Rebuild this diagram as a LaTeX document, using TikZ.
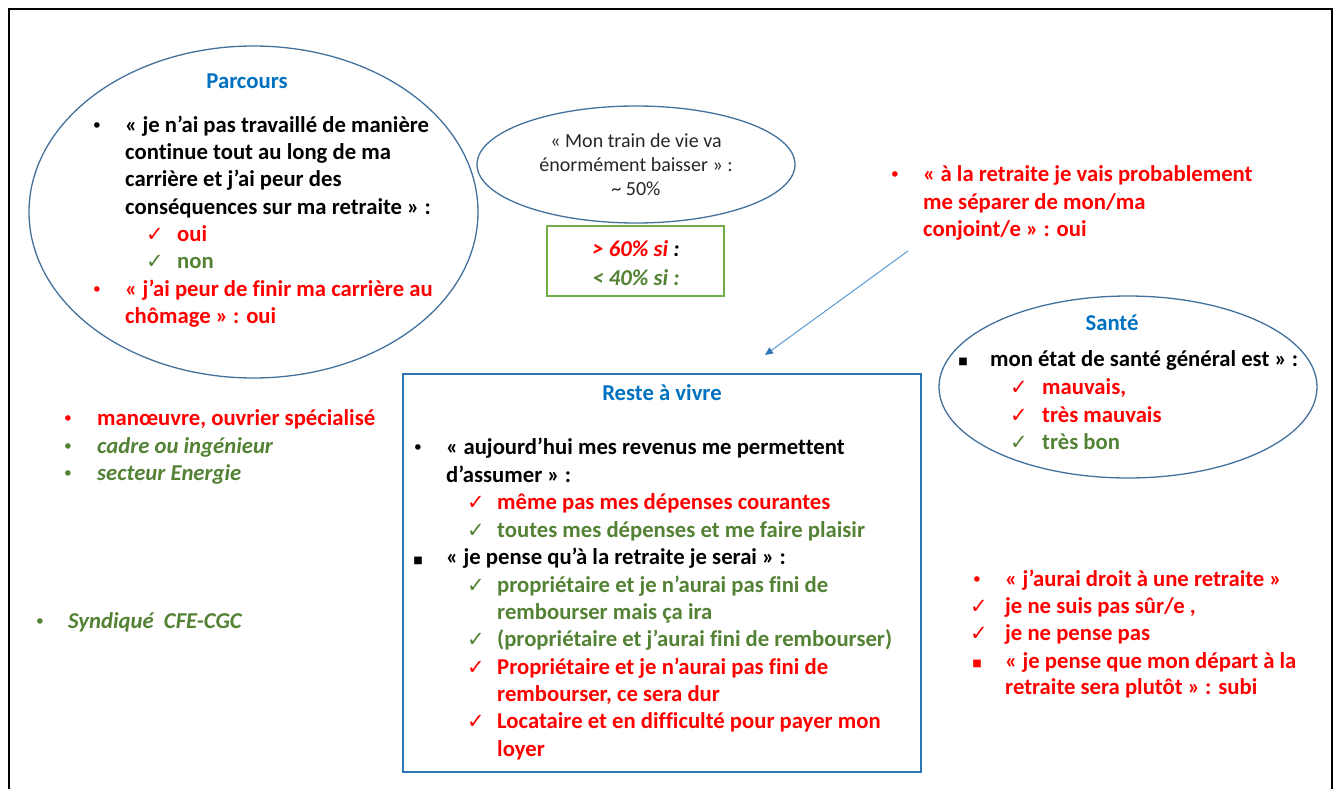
\documentclass[tikz,border=0pt]{standalone}
\usepackage{fontspec}
\setmainfont{Carlito}[Ligatures=NoCommon]
\newfontfamily\djv{DejaVu Sans}
\usetikzlibrary{shapes.geometric,arrows.meta}
\definecolor{myred}{HTML}{FF0000}
\definecolor{mygreen}{HTML}{548235}
\definecolor{ttlblue}{HTML}{0070C0}
\definecolor{ellblue}{HTML}{41719C}
\definecolor{boxblue}{HTML}{2E75B6}
\definecolor{arrblue}{HTML}{5B9BD5}
\definecolor{boxgreen}{HTML}{70AD47}
\definecolor{txtgray}{HTML}{262626}
\tikzset{
  ell/.style={draw=ellblue, line width=1.3pt, ellipse, inner sep=0pt},
  tx/.style={anchor=base west, inner sep=0pt, font=\fontsize{22.7}{27}\selectfont\bfseries},
  txi/.style={tx, font=\fontsize{22.7}{27}\selectfont\bfseries\itshape},
  ctr/.style={anchor=base, inner sep=0pt, font=\fontsize{22.7}{27}\selectfont\bfseries},
  ttl/.style={ctr, text=ttlblue},
  reg/.style={anchor=base, inner sep=0pt, text=txtgray, font=\fontsize{20}{24}\selectfont},
  bul/.style={anchor=base, inner sep=0pt, font=\djv\fontsize{19}{19}\selectfont},
  sqb/.style={anchor=base, inner sep=0pt, font=\djv\fontsize{10}{10}\selectfont},
  ck/.style={anchor=base, inner sep=0pt, font=\djv\fontsize{21}{21}\selectfont},
}
\begin{document}
\begin{tikzpicture}[x=1pt,y=-1pt]
\useasboundingbox (0,0) rectangle (1336,789);
% frame
\draw[line width=2.5pt] (9,795) -- (9,9) -- (1332,9) -- (1332,795);

% shapes
\node[ell, minimum width=449pt, minimum height=332pt] (parc) at (253.5,212) {};
\node[ell, minimum width=318pt, minimum height=117pt] (train) at (636,164.5) {};
\node[ell, minimum width=378pt, minimum height=182pt] (sante) at (1128,387) {};
\node[draw=boxgreen, line width=1.2pt, minimum width=177pt, minimum height=70pt, inner sep=0pt] (gbox) at (635.5,261) {};
\node[draw=boxblue, line width=1.3pt, minimum width=518pt, minimum height=398pt, inner sep=0pt] (reste) at (662,573) {};

% Parcours
\node[ttl] (parcT) at (247,89) {Parcours};
\node[bul] (pb1) at (97,132) {•};
\node[tx] (p1) at (125,132) {« je n’ai pas travaillé de manière};
\node[tx] (p2) at (125,159.5) {continue tout au long de ma};
\node[tx] (p3) at (125,186.5) {carrière et j’ai peur des};
\node[tx] (p4) at (125,214) {conséquences sur ma retraite » :};
\node[ck, text=myred] (pc1) at (155,241) {✓};
\node[tx, text=myred] (p5) at (177,241) {oui};
\node[ck, text=mygreen] (pc2) at (155,268.5) {✓};
\node[tx, text=mygreen] (p6) at (177,268.5) {non};
\node[bul, text=myred] (pb2) at (97,296) {•};
\node[tx, text=myred] (p7) at (125,296) {« j’ai peur de finir ma carrière au};
\node[tx, text=myred] (p8) at (125,323) {chômage » : oui};

% train de vie
\node[reg] (t1) at (636,147.5) {« Mon train de vie va};
\node[reg] (t2) at (636,171.5) {énormément baisser » :};
\node[reg] (t3) at (636,195) {\textasciitilde{} 50\%};

% green box
\node[ctr, font=\fontsize{22.7}{27}\selectfont\bfseries\itshape] (g1) at (636,256) {\textcolor{myred}{> 60\% si} :};
\node[ctr, text=mygreen, font=\fontsize{22.7}{27}\selectfont\bfseries\itshape] (g2) at (636,285) {< 40\% si :};

% conjoint
\node[bul, text=myred] (cb) at (895,181) {•};
\node[tx, text=myred] (c1) at (923,181) {« à la retraite je vais probablement};
\node[tx, text=myred] (c2) at (923,209) {me séparer de mon/ma};
\node[tx, text=myred] (c3) at (923,236) {conjoint/e » : oui};

% arrow
\coordinate (as) at (908,251);
\coordinate (ae) at (765,355);
\draw[arrblue, line width=1pt, -{Triangle[length=8pt,width=7pt,color=boxblue]}] (as) -- (ae);

% Santé
\node[ttl] (santeT) at (1112,330) {Santé};
\node[sqb] (sb) at (963,364) {■};
\node[tx] (s1) at (990,366) {mon état de santé général est » :};
\node[ck, text=myred] (sc1) at (1019,394) {✓};
\node[tx, text=myred] (s2) at (1042,394) {mauvais,};
\node[ck, text=myred] (sc2) at (1019,422) {✓};
\node[tx, text=myred] (s3) at (1042,422) {très mauvais};
\node[ck, text=mygreen] (sc3) at (1019,449) {✓};
\node[tx, text=mygreen] (s4) at (1042,449) {très bon};

% Reste à vivre
\node[ttl] (resteT) at (662,400) {Reste à vivre};
\node[bul] (rb1) at (418,454) {•};
\node[tx] (r1) at (446,454) {« aujourd’hui mes revenus me permettent};
\node[tx] (r2) at (446,482) {d’assumer » :};
\node[ck, text=myred] (rc1) at (476,509.5) {✓};
\node[tx, text=myred] (r3) at (497,509.5) {même pas mes dépenses courantes};
\node[ck, text=mygreen] (rc2) at (476,537) {✓};
\node[tx, text=mygreen] (r4) at (497,537) {toutes mes dépenses et me faire plaisir};
\node[sqb] (rb2) at (418,563) {■};
\node[tx] (r5) at (446,564.5) {« je pense qu’à la retraite je serai » :};
\node[ck, text=mygreen] (rc3) at (476,592) {✓};
\node[tx, text=mygreen] (r6) at (497,592) {propriétaire et je n’aurai pas fini de};
\node[tx, text=mygreen] (r7) at (497,619) {rembourser mais ça ira};
\node[ck, text=mygreen] (rc4) at (476,646.5) {✓};
\node[tx, text=mygreen] (r8) at (497,646.5) {(propriétaire et j’aurai fini de rembourser)};
\node[ck, text=myred] (rc5) at (476,674) {✓};
\node[tx, text=myred] (r9) at (497,674) {Propriétaire et je n’aurai pas fini de};
\node[tx, text=myred] (r10) at (497,701) {rembourser, ce sera dur};
\node[ck, text=myred] (rc6) at (476,728.5) {✓};
\node[tx, text=myred] (r11) at (497,728.5) {Locataire et en difficulté pour payer mon};
\node[tx, text=myred] (r12) at (497,756) {loyer};

% left list
\node[bul, text=myred] (lb1) at (68,425) {•};
\node[tx, text=myred] (l1) at (97,425) {manœuvre, ouvrier spécialisé};
\node[bul, text=mygreen] (lb2) at (68,453) {•};
\node[txi, text=mygreen] (l2) at (97,453) {cadre ou ingénieur};
\node[bul, text=mygreen] (lb3) at (68,480) {•};
\node[txi, text=mygreen] (l3) at (97,480) {secteur Energie};
\node[bul, text=mygreen] (lb4) at (40,628) {•};
\node[txi, text=mygreen] (l4) at (68,628) {Syndiqué\ \ CFE-CGC};

% bottom right
\node[bul, text=myred] (bb1) at (977,586) {•};
\node[tx, text=myred] (b1) at (1005,586) {« j’aurai droit à une retraite »};
\node[ck, text=myred] (bc1) at (979,613) {✓};
\node[tx, text=myred] (b2) at (1005,613) {je ne suis pas sûr/e ,};
\node[ck, text=myred] (bc2) at (979,640) {✓};
\node[tx, text=myred] (b3) at (1005,640) {je ne pense pas};
\node[sqb, text=myred] (bb2) at (977,666) {■};
\node[tx, text=myred] (b4) at (1005,668) {« je pense que mon départ à la};
\node[tx, text=myred] (b5) at (1005,694.5) {retraite sera plutôt » : subi};
\end{tikzpicture}
\end{document}
